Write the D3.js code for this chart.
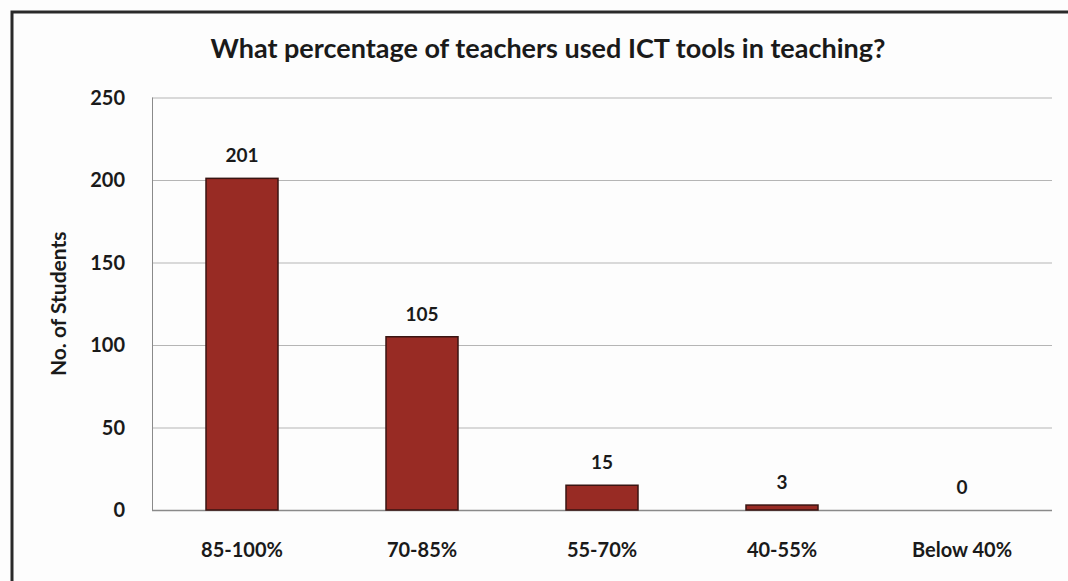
<!DOCTYPE html>
<html>
<head>
<meta charset="utf-8">
<script src="https://cdn.jsdelivr.net/npm/d3@7"></script>
<style>
  body { margin: 0; background: #fdfdfd; }
  text { font-family: "Lato", "Liberation Sans", sans-serif; font-weight: bold; fill: #1a1a1a; }
</style>
</head>
<body>
<div id="chart"></div>
<script>
// data
var categories = ["85-100%", "70-85%", "55-70%", "40-55%", "Below 40%"];
var students = [201, 105, 15, 3, 0];
var yTicks = [0, 50, 100, 150, 200, 250];

// set the dimensions and margins of the graph
var W = 1068, H = 581;
var margin = {top: 97.5, right: 16, bottom: 71, left: 152},
    width = W - margin.left - margin.right,
    height = H - margin.top - margin.bottom;

var x = d3.scaleBand()
    .domain(categories)
    .range([0, width])
    .paddingInner(0.6)
    .paddingOuter(0.3);
var y = d3.scaleLinear()
    .domain([0, 250])
    .range([height, 0]);

var svg = d3.select("#chart").append("svg")
    .attr("width", W)
    .attr("height", H);

// outer frame (runs off the right and bottom of the photo)
svg.append("rect")
    .attr("x", 12).attr("y", 12)
    .attr("width", W + 20).attr("height", H + 20)
    .attr("fill", "none")
    .attr("stroke", "#2a2a2a")
    .attr("stroke-width", 3);

// title
svg.append("text")
    .attr("x", 548).attr("y", 58)
    .attr("text-anchor", "middle")
    .style("font-size", "27px")
    .text("What percentage of teachers used ICT tools in teaching?");

var g = svg.append("g")
    .attr("transform", "translate(" + margin.left + "," + margin.top + ")");

// gridlines
g.selectAll(".grid")
    .data(yTicks)
  .enter().append("line")
    .attr("class", "grid")
    .attr("x1", 0).attr("x2", width)
    .attr("y1", function(d) { return y(d) + 0.5; })
    .attr("y2", function(d) { return y(d) + 0.5; })
    .attr("stroke", function(d) { return d === 0 ? "#8a8a8a" : "#b5b5b5"; })
    .attr("stroke-width", function(d) { return d === 0 ? 1.5 : 1; });

// y axis line
g.append("line")
    .attr("x1", 0.5).attr("x2", 0.5)
    .attr("y1", 0).attr("y2", height)
    .attr("stroke", "#8a8a8a");

// y tick labels
g.selectAll(".ytick")
    .data(yTicks)
  .enter().append("text")
    .attr("class", "ytick")
    .attr("x", -27)
    .attr("y", function(d) { return y(d); })
    .attr("dy", "0.35em")
    .attr("text-anchor", "end")
    .style("font-size", "20px")
    .text(function(d) { return d; });

// y axis title
svg.append("text")
    .attr("transform", "translate(66," + (margin.top + height / 2) + ") rotate(-90)")
    .attr("text-anchor", "middle")
    .style("font-size", "21px")
    .text("No. of Students");

// bars
g.selectAll(".bar")
    .data(students)
  .enter().append("rect")
    .attr("class", "bar")
    .attr("x", function(d, i) { return x(categories[i]); })
    .attr("width", x.bandwidth())
    .attr("y", function(d) { return y(d); })
    .attr("height", function(d) { return height - y(d); })
    .attr("fill", "#982b24")
    .attr("stroke", function(d) { return d > 0 ? "#3a1512" : "none"; })
    .attr("stroke-width", 1.5);

// value labels
g.selectAll(".val")
    .data(students)
  .enter().append("text")
    .attr("class", "val")
    .attr("x", function(d, i) { return x(categories[i]) + x.bandwidth() / 2; })
    .attr("y", function(d) { return y(d) - 16; })
    .attr("text-anchor", "middle")
    .style("font-size", "19px")
    .text(function(d) { return d; });

// x labels
g.selectAll(".xlab")
    .data(categories)
  .enter().append("text")
    .attr("class", "xlab")
    .attr("x", function(d) { return x(d) + x.bandwidth() / 2; })
    .attr("y", height + 47)
    .attr("text-anchor", "middle")
    .style("font-size", "20px")
    .text(function(d) { return d; });
</script>
</body>
</html>
